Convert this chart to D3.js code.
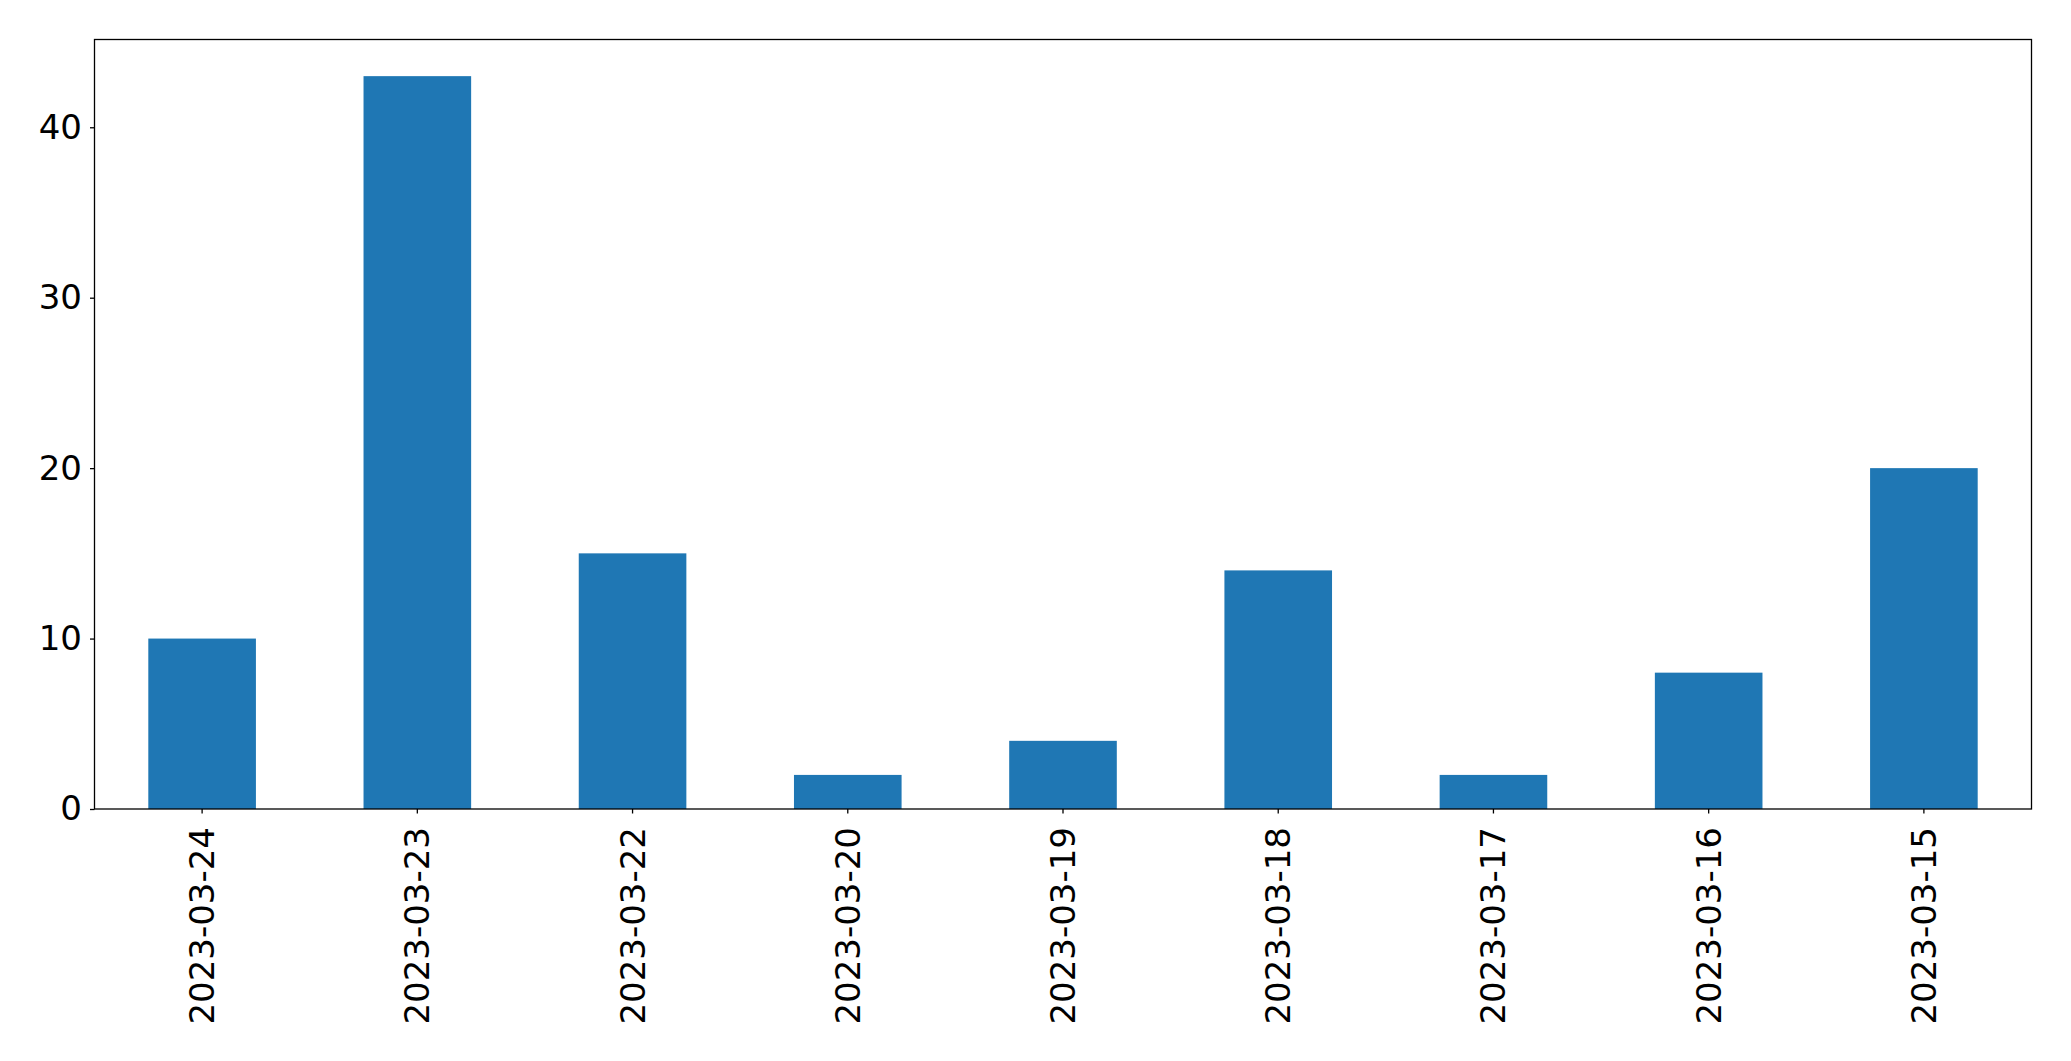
<!DOCTYPE html>
<html>
<head>
<meta charset="utf-8">
<script src="https://cdn.jsdelivr.net/npm/d3@7"></script>
<style>
  html, body { margin: 0; padding: 0; background: #fff; }
  svg { display: block; }
  text { font-family: "DejaVu Sans", sans-serif; fill: #000; }
</style>
</head>
<body>
<svg id="chart" width="2071" height="1061"></svg>
<script>
const categories = ["2023-03-24","2023-03-23","2023-03-22","2023-03-20","2023-03-19","2023-03-18","2023-03-17","2023-03-16","2023-03-15"];
const values = [10, 43, 15, 2, 4, 14, 2, 8, 20];
const yTicks = [0, 10, 20, 30, 40];

const W = 2071, H = 1061;
const m = { left: 94.5, right: 2031.5, top: 39.5, bottom: 809 };
const svg = d3.select("#chart");

const x = d3.scaleBand().domain(categories).range([m.left, m.right]).paddingInner(0.5).paddingOuter(0.25);
const y = d3.scaleLinear().domain([0, 43 * 1.05]).range([m.bottom, m.top]);

svg.append("g").selectAll("rect").data(values).join("rect")
  .attr("x", (d, i) => x(categories[i]))
  .attr("width", x.bandwidth())
  .attr("y", d => y(d))
  .attr("height", d => y(0) - y(d))
  .attr("fill", "#1f77b4");

// frame
svg.append("rect")
  .attr("x", m.left).attr("y", m.top)
  .attr("width", m.right - m.left).attr("height", m.bottom - m.top)
  .attr("fill", "none").attr("stroke", "#000").attr("stroke-width", 1.3);

// y axis
const yAxis = d3.axisLeft(y).tickValues(yTicks).tickSize(4.5).tickPadding(8).tickFormat(d3.format("d"));
const gy = svg.append("g").attr("transform", `translate(${m.left},0)`).call(yAxis);
gy.select(".domain").remove();
gy.selectAll(".tick line").attr("stroke", "#000").attr("stroke-width", 1.3);
gy.selectAll(".tick text").attr("font-size", 34).attr("font-family", "DejaVu Sans").attr("fill", "#000");

// x axis
const xAxis = d3.axisBottom(x).tickSize(4.5).tickPadding(0);
const gx = svg.append("g").attr("transform", `translate(0,${m.bottom})`).call(xAxis);
gx.select(".domain").remove();
gx.selectAll(".tick line").attr("stroke", "#000").attr("stroke-width", 1.3);
gx.selectAll(".tick text")
  .attr("font-size", 34).attr("font-family", "DejaVu Sans").attr("fill", "#000")
  .attr("text-anchor", "end")
  .attr("dy", null)
  .attr("y", 0).attr("x", 0)
  .attr("dominant-baseline", "central")
  .attr("transform", "translate(0,18) rotate(-90)");
</script>
</body>
</html>
